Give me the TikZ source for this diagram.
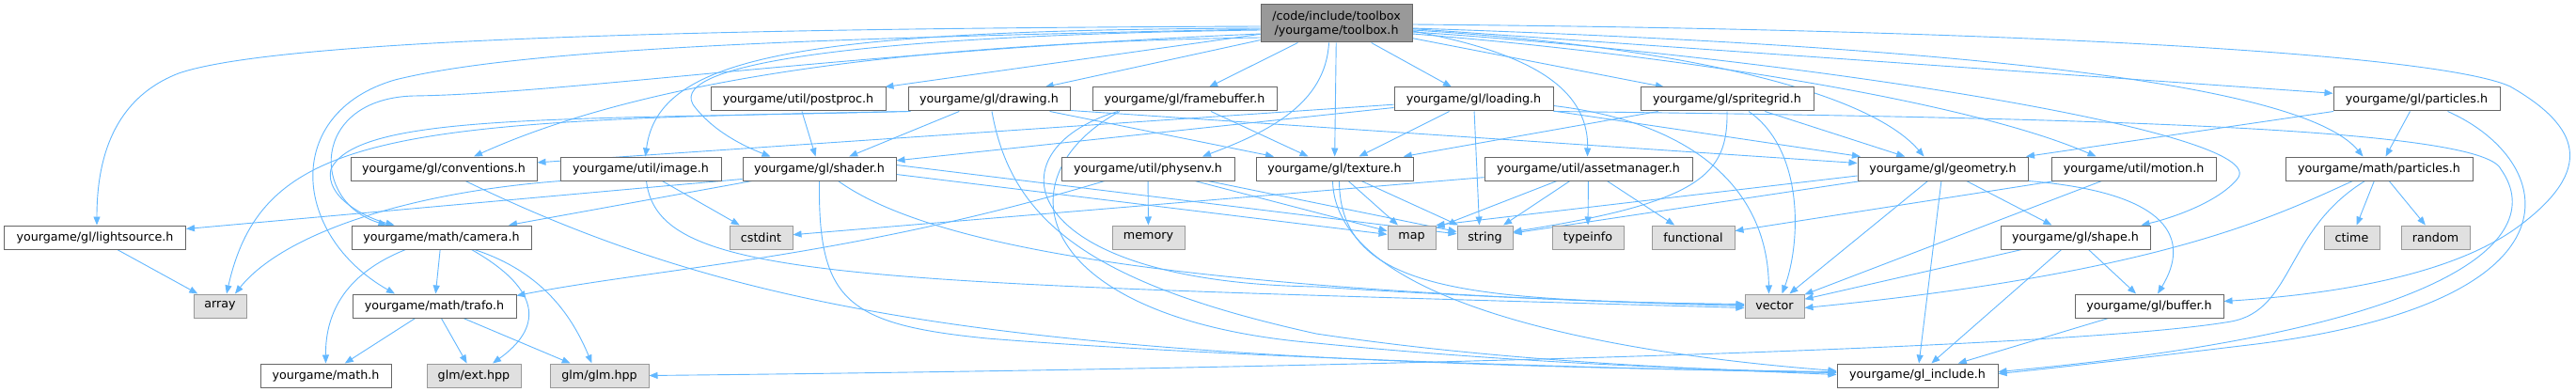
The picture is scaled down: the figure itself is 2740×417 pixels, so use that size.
\documentclass[tikz,border=0pt]{standalone}
\usepackage{fontspec}
\setmainfont{DejaVu Sans}
\usetikzlibrary{arrows.meta}
\definecolor{edgecol}{HTML}{63B8FF}
\definecolor{boxdraw}{HTML}{666666}
\definecolor{sysdraw}{HTML}{999999}
\definecolor{sysfill}{HTML}{E0E0E0}
\definecolor{rootfill}{HTML}{999999}
\pgfdeclarelayer{back}
\pgfdeclarelayer{edges}
\pgfsetlayers{back,edges,main}
\tikzset{
  hbox/.style={draw=boxdraw, fill=white, line width=1pt, minimum height=25pt, inner sep=0pt, font=\fontsize{12.7pt}{15pt}\selectfont, text=black},
  sbox/.style={hbox, draw=sysdraw, fill=sysfill},
  rbox/.style={hbox, fill=rootfill, minimum height=40pt, align=center},
  dep/.style={draw=edgecol, line width=0.9pt, -{Triangle[length=9pt,width=7pt]}},
}
\begin{document}
\begin{tikzpicture}[x=1pt,y=-1pt]
\begin{pgfonlayer}{back}
\fill[white] (0,0) rectangle (2740,417);
\end{pgfonlayer}
\useasboundingbox (0,0) rectangle (2740,417);

% row 1
\node[rbox, minimum width=161pt] (root) at (1421.5,25) {/code/include/toolbox\\/yourgame/toolbox.h};
% row 2
\node[hbox, minimum width=186pt] (postproc) at (849,105.5) {yourgame/util/postproc.h};
\node[hbox, minimum width=172pt] (drawing) at (1052,105.5) {yourgame/gl/drawing.h};
\node[hbox, minimum width=196pt] (framebuffer) at (1260,105.5) {yourgame/gl/framebuffer.h};
\node[hbox, minimum width=169pt] (loading) at (1567.5,105.5) {yourgame/gl/loading.h};
\node[hbox, minimum width=184pt] (spritegrid) at (1837,105.5) {yourgame/gl/spritegrid.h};
\node[hbox, minimum width=177pt] (glparticles) at (2570.5,105.5) {yourgame/gl/particles.h};
% row 3
\node[hbox, minimum width=198pt] (conventions) at (472,179.5) {yourgame/gl/conventions.h};
\node[hbox, minimum width=171pt] (image) at (681.5,179.5) {yourgame/util/image.h};
\node[hbox, minimum width=163pt] (shader) at (871.5,179.5) {yourgame/gl/shader.h};
\node[hbox, minimum width=184pt] (physenv) at (1221,179.5) {yourgame/util/physenv.h};
\node[hbox, minimum width=167pt] (texture) at (1419.5,179.5) {yourgame/gl/texture.h};
\node[hbox, minimum width=221pt] (assetmanager) at (1689.5,179.5) {yourgame/util/assetmanager.h};
\node[hbox, minimum width=181pt] (geometry) at (2066.5,179.5) {yourgame/gl/geometry.h};
\node[hbox, minimum width=175pt] (motion) at (2269.5,179.5) {yourgame/util/motion.h};
\node[hbox, minimum width=199pt] (mathparticles) at (2530.5,179.5) {yourgame/math/particles.h};
% row 4
\node[hbox, minimum width=193pt] (lightsource) at (101,252.5) {yourgame/gl/lightsource.h};
\node[hbox, minimum width=191pt] (camera) at (469.5,252.5) {yourgame/math/camera.h};
\node[sbox, minimum width=67pt] (cstdint) at (809.5,252.5) {cstdint};
\node[sbox, minimum width=77pt] (memory) at (1221.5,252.5) {memory};
\node[sbox, minimum width=51pt] (map) at (1501.5,252.5) {map};
\node[sbox, minimum width=59pt] (string) at (1579.5,252.5) {string};
\node[sbox, minimum width=76pt] (typeinfo) at (1689,252.5) {typeinfo};
\node[sbox, minimum width=88pt] (functional) at (1801,252.5) {functional};
\node[hbox, minimum width=159pt] (shape) at (2207.5,252.5) {yourgame/gl/shape.h};
\node[sbox, minimum width=59pt] (ctime) at (2501.5,252.5) {ctime};
\node[sbox, minimum width=73pt] (random) at (2590.5,252.5) {random};
% row 5
\node[sbox, minimum width=56pt] (array) at (234,325.5) {array};
\node[hbox, minimum width=174pt] (trafo) at (462,325.5) {yourgame/math/trafo.h};
\node[sbox, minimum width=63pt] (vector) at (1887.5,325.5) {vector};
\node[hbox, minimum width=158pt] (buffer) at (2286,325.5) {yourgame/gl/buffer.h};
% row 6
\node[hbox, minimum width=139pt] (mathh) at (346.5,399.5) {yourgame/math.h};
\node[sbox, minimum width=100pt] (glmext) at (504,399.5) {glm/ext.hpp};
\node[sbox, minimum width=105pt] (glmglm) at (637.5,399.5) {glm/glm.hpp};
\node[hbox, minimum width=171pt] (glinclude) at (2039.5,399.5) {yourgame/gl\_include.h};

\begin{pgfonlayer}{edges}
% ---- from toolbox
\draw[dep] ([yshift=-3pt]root.west) .. controls (800,30) and (300,40) .. (190,78) .. controls (120,105) and (103,170) .. ([xshift=2pt]lightsource.north);
\draw[dep] ([yshift=-6pt]root.west) .. controls (900,40) and (560,50) .. (420,85) .. controls (300,120) and (310,250) .. ([xshift=-42pt]trafo.north);
\draw[dep] ([yshift=-11pt]root.west) .. controls (900,55) and (600,100) .. (440,102) .. controls (330,105) and (330,215) .. ([xshift=-58pt]camera.north);
\draw[dep] ([yshift=-15pt]root.west) .. controls (1000,45) and (700,78) .. ([xshift=32pt]conventions.north);
\draw[dep] ([yshift=-5pt]root.west) .. controls (850,32) and (700,60) .. ([xshift=5pt]image.north);
\draw[dep] ([yshift=-7pt]root.west) .. controls (900,38) and (700,70) .. (740,115) .. controls (760,140) and (790,155) .. ([xshift=-52pt]shader.north);
\draw[dep] (root) -- (postproc);
\draw[dep] (root) -- (drawing);
\draw[dep] (root) -- (framebuffer);
\draw[dep] ([xshift=-8pt]root.south) .. controls (1410,110) and (1350,140) .. ([xshift=58pt]physenv.north);
\draw[dep] (root) -- (texture);
\draw[dep] (root) -- (loading);
\draw[dep] ([yshift=-8pt]root.east) .. controls (1620,55) and (1690,90) .. ([xshift=-1pt]assetmanager.north);
\draw[dep] (root) -- (spritegrid);
\draw[dep] ([yshift=-7pt]root.east) .. controls (1800,50) and (1990,100) .. ([xshift=-20pt]geometry.north);
\draw[dep] ([yshift=-11pt]root.east) .. controls (1800,60) and (2100,110) .. ([xshift=-40pt]motion.north);
\draw[dep] ([yshift=-9pt]root.east) .. controls (1900,60) and (2420,140) .. (2380,190) .. controls (2360,215) and (2310,232) .. ([xshift=70pt]shape.north);
\draw[dep] ([yshift=-5pt]root.east) .. controls (2100,50) and (2450,90) .. ([xshift=-17pt]mathparticles.north);
\draw[dep] (root) -- (glparticles);
\draw[dep] ([yshift=-1pt]root.east) .. controls (2200,32) and (2600,60) .. (2670,92) .. controls (2745,135) and (2760,180) .. (2680,240) .. controls (2600,300) and (2450,315) .. ([yshift=5pt]buffer.east);

% ---- left part
\draw[dep] (lightsource) -- (array);
\draw[dep] (camera) -- (trafo);
\draw[dep] ([xshift=-38pt]camera.south) .. controls (370,290) and (346,330) .. (mathh.north);
\draw[dep] ([xshift=32pt]camera.south) .. controls (580,310) and (575,350) .. ([xshift=20pt]glmext.north);
\draw[dep] ([xshift=35pt]camera.south) .. controls (580,290) and (610,340) .. ([xshift=-8pt]glmglm.north);
\draw[dep] (trafo) -- (mathh);
\draw[dep] (trafo) -- (glmext);
\draw[dep] (trafo) -- (glmglm);
\draw[dep] ([xshift=23pt]conventions.south) .. controls (800,340) and (1100,385) .. ([yshift=4pt]glinclude.west);
\draw[dep] ([xshift=-85pt]image.south) .. controls (430,205) and (300,250) .. ([xshift=16pt]array.north);
\draw[dep] (image) -- (cstdint);
\draw[dep] ([xshift=6pt]image.south) .. controls (700,300) and (900,300) .. ([yshift=-2pt]vector.west);
\draw[dep] ([yshift=-11pt]shader.west) -- ([yshift=9pt]lightsource.east);
\draw[dep] (shader) -- (camera);
\draw[dep] ([yshift=-6pt]shader.east) -- (map);
\draw[dep] ([yshift=4pt]shader.east) -- (string);
\draw[dep] ([xshift=20pt]shader.south) .. controls (1000,270) and (1300,310) .. (vector.west);
\draw[dep] (shader.south) .. controls (870,320) and (900,345) .. (1050,360) .. controls (1300,380) and (1700,392) .. ([yshift=3pt]glinclude.west);
\draw[dep] (postproc) -- (shader);

% ---- drawing
\draw[dep] (drawing) -- (shader);
\draw[dep] (drawing) -- (texture);
\draw[dep] ([yshift=1pt]drawing.south east) -- ([yshift=6pt]geometry.west);
\draw[dep] (drawing.south west) .. controls (600,128) and (380,120) .. (352,180) .. controls (345,210) and (390,232) .. ([xshift=-50pt]camera.north);
\draw[dep] ([xshift=3pt]drawing.south west) .. controls (420,128) and (280,140) .. ([xshift=7pt]array.north);
\draw[dep] ([xshift=3pt]drawing.south) .. controls (1075,230) and (1150,300) .. (1400,355) .. controls (1600,385) and (1800,392) .. ([yshift=1pt]glinclude.west);

% ---- framebuffer
\draw[dep] (framebuffer) -- (texture);
\draw[dep] ([xshift=-71pt]framebuffer.south) .. controls (1050,160) and (1080,300) .. (1400,305) .. controls (1600,318) and (1750,322) .. ([yshift=1pt]vector.west);
\draw[dep] ([xshift=-69pt]framebuffer.south) .. controls (1060,190) and (1100,340) .. (1400,365) .. controls (1600,385) and (1800,393) .. ([yshift=3pt]glinclude.west);

% ---- physenv
\draw[dep] (physenv) -- (memory);
\draw[dep] (physenv) -- (map);
\draw[dep] (physenv) -- (string);
\draw[dep] ([xshift=-46pt]physenv.south) .. controls (900,275) and (700,285) .. ([yshift=-2pt]trafo.north east);

% ---- texture
\draw[dep] (texture) -- (map);
\draw[dep] (texture) -- (string);
\draw[dep] ([xshift=5pt]texture.south) .. controls (1425,310) and (1560,320) .. ([yshift=2pt]vector.west);
\draw[dep] ([xshift=-2pt]texture.south) .. controls (1420,320) and (1700,375) .. ([yshift=5pt]glinclude.west);

% ---- loading
\draw[dep] (loading) -- (shader);
\draw[dep] (loading) -- (conventions);
\draw[dep] (loading) -- (texture);
\draw[dep] (loading) -- ([xshift=-6pt]string.north);
\draw[dep] (loading) -- (geometry);
\draw[dep] ([yshift=-7pt]loading.east) .. controls (1800,130) and (1880,200) .. ([xshift=-6pt]vector.north);
\draw[dep] (loading.south east) .. controls (2200,125) and (2640,135) .. (2660,180) .. controls (2710,250) and (2620,350) .. ([yshift=4pt]glinclude.east);

% ---- spritegrid
\draw[dep] (spritegrid) -- (texture);
\draw[dep] (spritegrid) -- (geometry);
\draw[dep] (spritegrid.south) .. controls (1838,185) and (1810,215) .. ([yshift=6pt]string.east);
\draw[dep] ([xshift=23pt]spritegrid.south) .. controls (1920,160) and (1915,260) .. ([xshift=8pt]vector.north);

% ---- assetmanager
\draw[dep] (assetmanager) -- (cstdint);
\draw[dep] (assetmanager) -- (map);
\draw[dep] (assetmanager) -- (string);
\draw[dep] (assetmanager) -- (typeinfo);
\draw[dep] (assetmanager) -- (functional);

% ---- geometry
\draw[dep] ([yshift=-7.5pt]geometry.west) -- (map.north east);
\draw[dep] (geometry) -- (string);
\draw[dep] (geometry) -- (vector);
\draw[dep] (geometry) -- (glinclude);
\draw[dep] (geometry) -- (shape);
\draw[dep] (geometry.south east) .. controls (2310,205) and (2330,255) .. ([xshift=9pt]buffer.north);

% ---- motion, shape, buffer
\draw[dep] (motion) -- (functional);
\draw[dep] (motion) -- (vector);
\draw[dep] (shape) -- (vector);
\draw[dep] (shape) -- (buffer);
\draw[dep] (shape) -- (glinclude);
\draw[dep] (buffer) -- (glinclude);

% ---- particles
\draw[dep] (mathparticles) -- (ctime);
\draw[dep] (mathparticles) -- (random);
\draw[dep] ([xshift=-28pt]mathparticles.south) .. controls (2420,230) and (2300,290) .. ([yshift=-2pt]vector.east);
\draw[dep] ([xshift=-15pt]mathparticles.south) .. controls (2430,245) and (2440,330) .. (2373,342) .. controls (2200,372) and (1400,392) .. (glmglm.east);
\draw[dep] (glparticles) -- (geometry);
\draw[dep] (glparticles) -- (mathparticles);
\draw[dep] ([xshift=33pt]glparticles.south) .. controls (2720,170) and (2760,320) .. (2400,366) .. controls (2300,378) and (2200,390) .. ([yshift=2pt]glinclude.east);
\end{pgfonlayer}
\end{tikzpicture}
\end{document}
